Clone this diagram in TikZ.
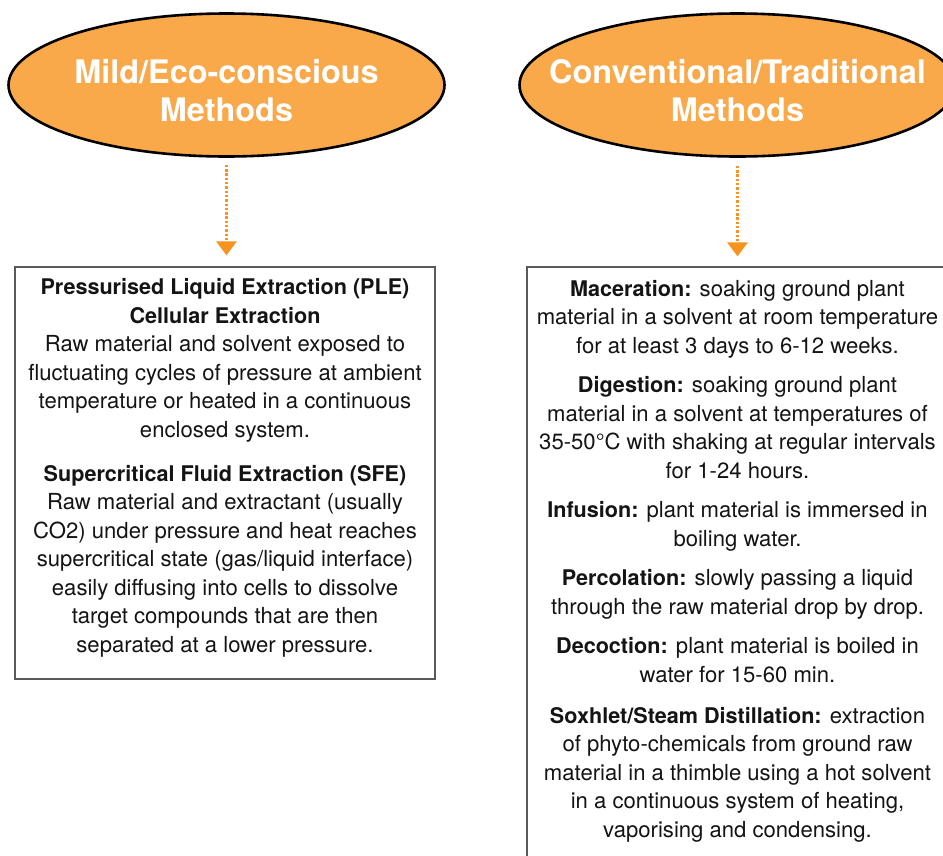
\documentclass[tikz,border=0pt]{standalone}
\usepackage{fontspec}
\setmainfont{TeX Gyre Heros}
\usetikzlibrary{shapes.geometric,arrows.meta}
\definecolor{ellfill}{RGB}{249,168,74}
\definecolor{arrowc}{RGB}{247,148,32}
\definecolor{boxline}{RGB}{90,90,90}
\definecolor{txt}{RGB}{20,20,20}
\tikzset{
  methodell/.style={ellipse, draw=black, line width=2.6pt, fill=ellfill,
    minimum width=436pt, minimum height=143pt, inner sep=0pt},
  elltext/.style={text=white, font=\bfseries\fontsize{32.4}{38}\selectfont, align=center},
  infobox/.style={draw=boxline, line width=1.2pt, fill=none, inner sep=0pt},
  para/.style={anchor=base, align=center, text=txt, inner sep=0pt,
    font=\fontsize{22.1}{28.5}\selectfont},
  dotarrow/.style={draw=arrowc, line width=2.8pt, dash pattern=on 2.4pt off 1.9pt,
    line cap=butt, -{Triangle[width=20pt,length=14pt]}, arrowc}
}
\newcommand{\hdtxt}[1]{{\fontsize{21.6}{28.5}\selectfont\bfseries #1}}
\begin{document}
\begin{tikzpicture}[x=1pt,y=-1pt]
\useasboundingbox (0,0) rectangle (943,855);
\fill[white] (0,0) rectangle (943,855);
% ellipses
\node[methodell, label={[elltext, yshift=-6pt]center:Mild/Eco-conscious\\Methods}] (mild) at (226.5,85) {};
\node[methodell, label={[elltext, yshift=-6pt]center:Conventional/Traditional\\Methods}] (conv) at (737.5,85) {};
% boxes
\node[infobox, minimum width=420pt, minimum height=412pt] (leftbox) at (225,473) {};
\node[infobox, minimum width=420pt, minimum height=610pt] (rightbox) at (737,572) {};
% arrows
\draw[dotarrow, shorten <=7pt, shorten >=11pt] (mild.south) -- (mild.south |- leftbox.north);
\draw[dotarrow, shorten <=8pt, shorten >=10pt] (conv.south) -- (conv.south |- rightbox.north);
% left box text (positioned at last baseline)
\node[para] (ple) at (225,437) {\hdtxt{Pressurised Liquid Extraction (PLE)}\\
\hdtxt{Cellular Extraction}\\
Raw material and solvent exposed to\\
fluctuating cycles of pressure at ambient\\
temperature or heated in a continuous\\
enclosed system.};
\node[para] (sfe) at (225,652) {\hdtxt{Supercritical Fluid Extraction (SFE)}\\
Raw material and extractant (usually\\
CO2) under pressure and heat reaches\\
supercritical state (gas/liquid interface)\\
easily diffusing into cells to dissolve\\
target compounds that are then\\
separated at a lower pressure.};
% right box text
\node[para] (mac) at (737.5,353) {\hdtxt{Maceration:} soaking ground plant\\
material in a solvent at room temperature\\
for at least 3 days to 6-12 weeks.};
\node[para] (dig) at (737.5,478) {\hdtxt{Digestion:} soaking ground plant\\
material in a solvent at temperatures of\\
35-50°C with shaking at regular intervals\\
for 1-24 hours.};
\node[para] (inf) at (737.5,546) {\hdtxt{Infusion:} plant material is immersed in\\
boiling water.};
\node[para] (per) at (737.5,614) {\hdtxt{Percolation:} slowly passing a liquid\\
through the raw material drop by drop.};
\node[para] (dec) at (737.5,682) {\hdtxt{Decoction:} plant material is boiled in\\
water for 15-60 min.};
\node[para] (sox) at (737.5,837) {\hdtxt{Soxhlet/Steam Distillation:} extraction\\
of phyto-chemicals from ground raw\\
material in a thimble using a hot solvent\\
in a continuous system of heating,\\
vaporising and condensing.};
\end{tikzpicture}
\end{document}
